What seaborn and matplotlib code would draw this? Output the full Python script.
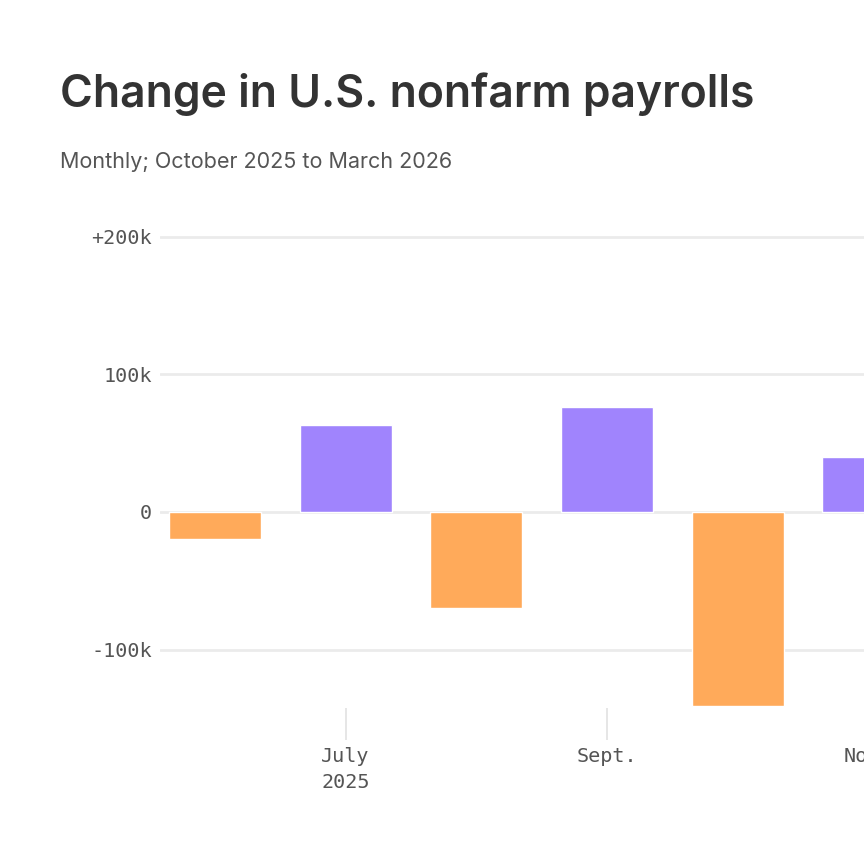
import matplotlib
matplotlib.use("Agg")
import matplotlib.pyplot as plt
import seaborn as sns
import pandas as pd

# Data (thousands of jobs)
months = ["June 2025", "July 2025", "Aug.", "Sept.", "Oct.", "Nov."]
changes = [-20, 63, -70, 76, -141, 40]
tick_positions = [1, 3, 5]
tick_labels = ["July\n2025", "Sept.", "Nov."]
ytick_values = [-100, 0, 100, 200]
ytick_labels = ["-100k", "0", "100k", "+200k"]

POS = "#a084fd"
NEG = "#ffaa5a"

sns.set_theme(style="white")
plt.rcParams["font.family"] = ["Inter", "DejaVu Sans"]

df = pd.DataFrame({"month": months, "change": changes})
palette = {m: (POS if v >= 0 else NEG) for m, v in zip(months, changes)}

fig = plt.figure(figsize=(8.64, 8.64), dpi=100)
ax = fig.add_axes([160 / 864, 1 - 708 / 864, (950 - 160) / 864, 478 / 864])

sns.barplot(data=df, x="month", y="change", hue="month", palette=palette,
            legend=False, width=0.704, saturation=1, ax=ax, zorder=3)

ax.set_xlim(-0.42, 5.626)
ax.set_ylim(-142.5, 205)

ax.set_yticks(ytick_values)
ax.set_yticklabels(ytick_labels)
ax.set_xticks(tick_positions)
ax.set_xticklabels(tick_labels, linespacing=1.45)

mono = ["DejaVu Sans Mono"]
for lab in ax.get_yticklabels() + ax.get_xticklabels():
    lab.set_family(mono)
    lab.set_fontsize(14.5)
    lab.set_color("#555555")

ax.tick_params(axis="y", left=False, length=0, pad=6)
ax.tick_params(axis="x", bottom=True, length=23, width=1.2, color="#e2e2e2",
               pad=5, direction="out")

ax.grid(axis="y", color="#ebebeb", linewidth=2, zorder=0)
ax.grid(axis="x", visible=False)
for s in ax.spines.values():
    s.set_visible(False)
ax.set_xlabel("")
ax.set_ylabel("")
ax.set_facecolor("white")

fig.text(60 / 864, 1 - 107 / 864, "Change in U.S. nonfarm payrolls",
         fontsize=32, fontweight="semibold", color="#333333", va="baseline",
         family=["Inter", "DejaVu Sans"])
fig.text(60 / 864, 1 - 168 / 864, "Monthly; October 2025 to March 2026",
         fontsize=15.5, color="#555555", va="baseline",
         family=["Inter", "DejaVu Sans"])

fig.savefig("out.png", dpi=100, facecolor="white")
